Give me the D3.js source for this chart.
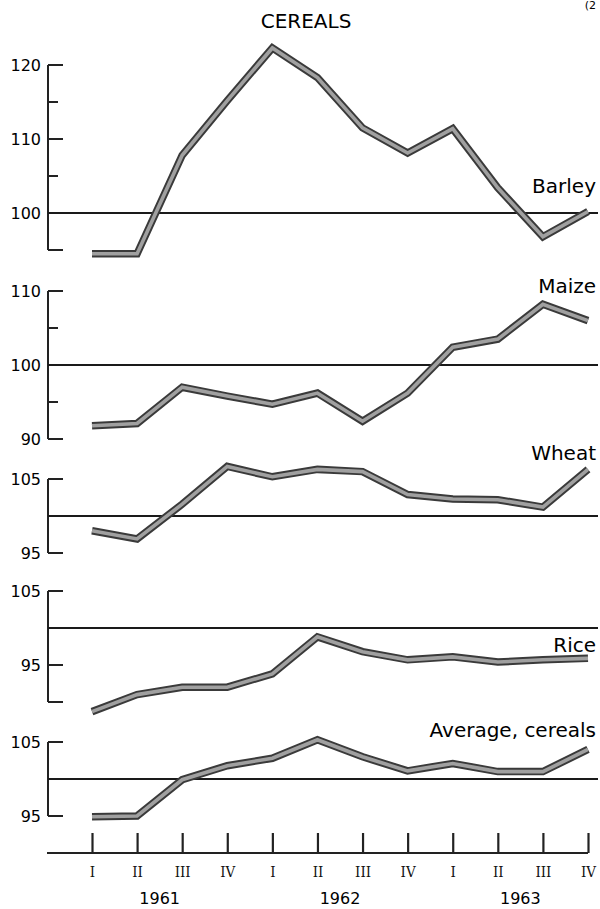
<!DOCTYPE html>
<html>
<head>
<meta charset="utf-8">
<script src="https://cdn.jsdelivr.net/npm/d3@7"></script>
<style>
  body { margin: 0; background: #fff; }
  svg { display: block; }
</style>
</head>
<body>
<script>
// quarters and years along the bottom
var years = ['1961', '1962', '1963'];
var quarters = ['I', 'II', 'III', 'IV'];

// index values (1961-63, quarterly)
var barley  = [94.5, 94.5, 107.8, 115.2, 122.3, 118.3, 111.5, 108.1, 111.4, 103.4, 96.8, 100.2];
var maize   = [91.8, 92.1, 97.0, 95.8, 94.7, 96.2, 92.4, 96.2, 102.4, 103.5, 108.2, 106.0];
var wheat   = [98.0, 96.9, 101.6, 106.7, 105.3, 106.3, 106.0, 102.9, 102.3, 102.2, 101.2, 106.3];
var rice    = [88.7, 91.0, 92.0, 92.0, 93.8, 98.8, 96.8, 95.7, 96.1, 95.4, 95.7, 95.9];
var average = [94.9, 95.0, 99.9, 101.8, 102.8, 105.3, 103.0, 101.1, 102.1, 101.0, 101.0, 104.0];

// per panel: name, axis range, tick marks, labelled ticks
var panelNames = ['Barley', 'Maize', 'Wheat', 'Rice', 'Average, cereals'];
var panelSeries = [barley, maize, wheat, rice, average];
var panelRanges = [[95, 120], [90, 110], [95, 105], [90, 105], [95, 105]];
var panelTicks = [[95, 105, 110, 115, 120], [90, 95, 105, 110], [95, 105], [90, 95, 105], [95, 105]];
var panelTickLabels = [[100, 110, 120], [90, 100, 110], [95, 105], [95, 105], [95, 105]];

// layout
var width = 600, height = 909;
var axisX = 48;
var unit = 7.4;                            // pixels per index point
var base = [213, 365, 516, 628, 779];      // y of the 100 line in each panel
var nameDy = [-20, -72, -56, 24, -42];     // series name baseline relative to 100 line

var svg = d3.select('body')
    .append('svg')
    .attr('width', width)
    .attr('height', height);

var font = '"DejaVu Sans", sans-serif';

// title
svg.append('text')
    .attr('x', 306)
    .attr('y', 28)
    .attr('text-anchor', 'middle')
    .style('font-family', font)
    .style('font-size', '20px')
    .text('CEREALS');

// page number in the top corner
svg.append('text')
    .attr('x', 596)
    .attr('y', 9)
    .attr('text-anchor', 'end')
    .style('font-family', font)
    .style('font-size', '11px')
    .text('(2');

var x = d3.scaleLinear()
    .domain([0, 11])
    .range([92, 588]);

var line = d3.line()
    .x(function(d, i) { return x(i); })
    .y(function(d) { return d; });

panelNames.forEach(function(name, p) {
    var r = panelRanges[p];
    var y = d3.scaleLinear()
        .domain([100 - 1, 100 + 1])
        .range([base[p] + unit, base[p] - unit]);

    var g = svg.append('g');

    // vertical axis
    g.append('line')
        .attr('x1', axisX).attr('x2', axisX)
        .attr('y1', y(r[0])).attr('y2', y(r[1]))
        .attr('stroke', '#222')
        .attr('stroke-width', 2);

    // tick marks pointing into the plot
    g.selectAll('.tick')
        .data(panelTicks[p])
        .enter().append('line')
        .attr('x1', axisX)
        .attr('x2', function(d) {
            var major = panelTickLabels[p].indexOf(d) >= 0 || d === r[0] || d === r[1];
            return axisX + (major ? 15 : 10);
        })
        .attr('y1', function(d) { return y(d); })
        .attr('y2', function(d) { return y(d); })
        .attr('stroke', '#222')
        .attr('stroke-width', 2);

    // 100 reference line
    g.append('line')
        .attr('x1', axisX).attr('x2', 598)
        .attr('y1', y(100)).attr('y2', y(100))
        .attr('stroke', '#1a1a1a')
        .attr('stroke-width', 1.8);

    // tick labels
    g.selectAll('.lab')
        .data(panelTickLabels[p])
        .enter().append('text')
        .attr('x', axisX - 7)
        .attr('y', function(d) { return y(d); })
        .attr('dy', '0.36em')
        .attr('text-anchor', 'end')
        .style('font-family', font)
        .style('font-size', '16px')
        .text(function(d) { return d; });

    // series line: dark outline with grey core
    var pts = panelSeries[p].map(function(v) { return y(v); });
    g.append('path')
        .attr('d', line(pts))
        .attr('fill', 'none')
        .attr('stroke', '#3a3a3a')
        .attr('stroke-width', 7.5)
        .attr('stroke-linejoin', 'miter');
    g.append('path')
        .attr('d', line(pts))
        .attr('fill', 'none')
        .attr('stroke', '#a0a0a0')
        .attr('stroke-width', 3.6)
        .attr('stroke-linejoin', 'miter');

    // series name
    g.append('text')
        .attr('x', 596)
        .attr('y', base[p] + nameDy[p])
        .attr('text-anchor', 'end')
        .style('font-family', font)
        .style('font-size', '20px')
        .text(name);
});

// time axis
var axisY = 853;
var xAxis = d3.axisBottom(x)
    .tickValues(d3.range(12))
    .tickSize(-20)
    .tickPadding(13)
    .tickFormat(function(i) { return quarters[i % 4]; });

var ax = svg.append('g')
    .attr('transform', 'translate(0,' + axisY + ')')
    .call(xAxis);

ax.select('.domain').remove();
ax.selectAll('.tick line')
    .attr('stroke', '#222')
    .attr('stroke-width', 2.2);
ax.selectAll('.tick text')
    .attr('fill', '#111')
    .style('font-family', '"DejaVu Serif Condensed", "DejaVu Serif", serif')
    .style('font-size', '15px');

ax.append('line')
    .attr('x1', 47).attr('x2', x(11))
    .attr('y1', 0).attr('y2', 0)
    .attr('stroke', '#222')
    .attr('stroke-width', 2);

// year labels centred on each year
svg.selectAll('.year')
    .data(years)
    .enter().append('text')
    .attr('x', function(d, k) { return x(4 * k + 1.5); })
    .attr('y', 904)
    .attr('text-anchor', 'middle')
    .style('font-family', font)
    .style('font-size', '16px')
    .text(function(d) { return d; });
</script>
</body>
</html>
